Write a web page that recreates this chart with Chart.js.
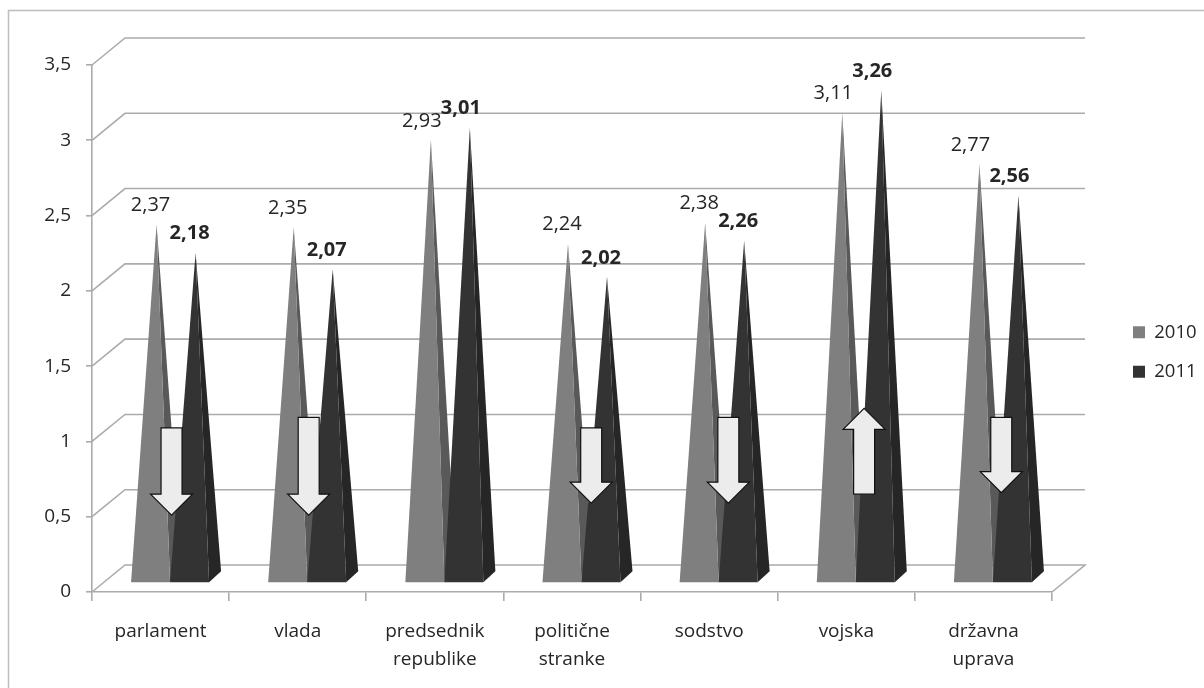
<!DOCTYPE html>
<html lang="sl">
<head>
  <meta charset="UTF-8">
  <title>Zaupanje v institucije</title>
  <style>
    body { margin: 0; background: #fff; }
    /* the reference is a slightly soft, rescaled screenshot */
    canvas { display: block; filter: blur(0.5px); }
  </style>
</head>
<body>
  <canvas id="chart" width="1204" height="688"></canvas>

  <script src="https://cdn.jsdelivr.net/npm/chart.js"></script>
  <script>
    const categories = ['parlament', 'vlada', ['predsednik', 'republike'], ['politične', 'stranke'], 'sodstvo', 'vojska', ['državna', 'uprava']];
    const seriesNames = ['2010', '2011'];
    const values2010 = [2.37, 2.35, 2.93, 2.24, 2.38, 3.11, 2.77];
    const values2011 = [2.18, 2.07, 3.01, 2.02, 2.26, 3.26, 2.56];
    const valueLabels2010 = ['2,37', '2,35', '2,93', '2,24', '2,38', '3,11', '2,77'];
    const valueLabels2011 = ['2,18', '2,07', '3,01', '2,02', '2,26', '3,26', '2,56'];

    // change arrows, in axis units (null = no arrow)
    const arrowCategory = [0.08, 1.08, null, 3.14, 4.14, 5.13, 6.13];
    const arrowFrom = [1.09, 1.16, null, 1.09, 1.16, 0.65, 1.16];
    const arrowTo = [0.51, 0.51, null, 0.59, 0.59, 1.22, 0.66];

    const FONT = '"Open Sans", sans-serif';
    const TEXT = '#262626';
    const GRID = '#ababab';
    const FRONT = ['#7f7f7f', '#333333'];
    const SIDE = ['#595959', '#262626'];

    // 3D look: wall depth and pyramid depth
    const WALL_DX = 33, WALL_DY = 27;
    const BAR_SHIFT_X = 9.5, BAR_SHIFT_Y = 9;
    const PYR_DX = 12, PYR_DY = 11;

    function drawWalls(chart) {
      const { ctx, chartArea, scales } = chart;
      ctx.save();
      ctx.strokeStyle = GRID;
      ctx.lineWidth = 1.6;
      scales.y.ticks.forEach(tick => {
        const y = scales.y.getPixelForValue(tick.value);
        ctx.beginPath();
        ctx.moveTo(chartArea.left, y);
        ctx.lineTo(chartArea.left + WALL_DX, y - WALL_DY);
        ctx.lineTo(chartArea.right + WALL_DX, y - WALL_DY);
        if (tick.value === 0) ctx.lineTo(chartArea.right, y);
        ctx.stroke();
      });
      ctx.restore();
    }

    function drawPyramids(chart) {
      const { ctx } = chart;
      const labels = [valueLabels2010, valueLabels2011];
      categories.forEach((_, i) => {
        [0, 1].forEach(d => {
          const bar = chart.getDatasetMeta(d).data[i];
          const left = bar.x - bar.width / 2 + BAR_SHIFT_X;
          const right = bar.x + bar.width / 2 + BAR_SHIFT_X;
          const base = bar.base - BAR_SHIFT_Y;
          const apexX = bar.x + BAR_SHIFT_X + PYR_DX / 2;
          const apexY = bar.y - 11;

          ctx.fillStyle = SIDE[d];
          ctx.beginPath();
          ctx.moveTo(right, base);
          ctx.lineTo(right + PYR_DX, base - PYR_DY);
          ctx.lineTo(apexX, apexY);
          ctx.closePath();
          ctx.fill();

          ctx.fillStyle = FRONT[d];
          ctx.beginPath();
          ctx.moveTo(left, base);
          ctx.lineTo(right, base);
          ctx.lineTo(apexX, apexY);
          ctx.closePath();
          ctx.fill();
        });
      });

      // value labels go on top of all the pyramids
      ctx.save();
      ctx.fillStyle = TEXT;
      ctx.textAlign = 'center';
      ctx.textBaseline = 'middle';
      categories.forEach((_, i) => {
        [0, 1].forEach(d => {
          const bar = chart.getDatasetMeta(d).data[i];
          const val = d === 0 ? values2010[i] : values2011[i];
          const shift = val > 2.5 ? 9 : 6;
          ctx.font = (d === 1 ? 'bold ' : '') + '20px ' + FONT;
          ctx.fillText(labels[d][i], bar.x + BAR_SHIFT_X + PYR_DX / 2 - shift, bar.y - 11 - 19);
        });
      });
      ctx.restore();
    }

    function drawArrows(chart) {
      const { ctx, scales } = chart;
      ctx.save();
      ctx.fillStyle = '#ececec';
      ctx.strokeStyle = '#111111';
      ctx.lineWidth = 1.2;
      ctx.lineJoin = 'miter';
      arrowCategory.forEach((pos, i) => {
        if (pos === null) return;
        const cat = Math.floor(pos);
        const x = scales.x.getPixelForValue(cat) + (pos - cat) * (scales.x.getPixelForValue(1) - scales.x.getPixelForValue(0));
        const y0 = scales.y.getPixelForValue(arrowFrom[i]);
        const y1 = scales.y.getPixelForValue(arrowTo[i]);
        const dir = y1 > y0 ? 1 : -1;
        const neck = y1 - dir * 21;
        ctx.beginPath();
        ctx.moveTo(x - 10.5, y0);
        ctx.lineTo(x + 10.5, y0);
        ctx.lineTo(x + 10.5, neck);
        ctx.lineTo(x + 21, neck);
        ctx.lineTo(x, y1);
        ctx.lineTo(x - 21, neck);
        ctx.lineTo(x - 10.5, neck);
        ctx.closePath();
        ctx.fill();
        ctx.stroke();
      });
      ctx.restore();
    }

    const pyramidPlugin = {
      id: 'pyramids',
      beforeDraw(chart) {
        // the frame only shows on the top and left, the screenshot cuts off the rest
        const { ctx, width, height } = chart;
        ctx.save();
        ctx.strokeStyle = '#bdbdbd';
        ctx.lineWidth = 1.5;
        ctx.beginPath();
        ctx.moveTo(8.5, height);
        ctx.lineTo(8.5, 10.5);
        ctx.lineTo(width, 10.5);
        ctx.stroke();
        ctx.restore();
      },
      afterLayout(chart) {
        // the legend sits further right and lower than Chart.js would place it
        const legend = chart.legend;
        const shiftY = 352 - (legend.top + legend.bottom) / 2;
        legend.left = 1133 - chart.options.plugins.legend.labels.padding;
        legend.right = chart.width;
        legend.top += shiftY;
        legend.bottom += shiftY;
      },
      beforeDatasetsDraw(chart) {
        drawWalls(chart);
        drawPyramids(chart);
        drawArrows(chart);
      },
      beforeDatasetDraw() {
        return false; // the flat bars are replaced by the pyramids
      }
    };

    const chart = new Chart(document.getElementById('chart'), {
      type: 'bar',
      data: {
        labels: categories,
        datasets: [
          { label: seriesNames[0], data: values2010, backgroundColor: FRONT[0], categoryPercentage: 0.569, barPercentage: 1 },
          { label: seriesNames[1], data: values2011, backgroundColor: FRONT[1], categoryPercentage: 0.569, barPercentage: 1 }
        ]
      },
      options: {
        responsive: false,
        animation: false,
        layout: { padding: { top: 65, right: 60 } },
        plugins: {
          tooltip: { enabled: false },
          legend: {
            position: 'right',
            labels: {
              boxWidth: 12, boxHeight: 12, padding: 21, color: TEXT,
              font: { family: FONT, size: 18.5 }
            }
          }
        },
        scales: {
          x: {
            grid: { drawOnChartArea: false, color: GRID, lineWidth: 1.6, tickLength: 9 },
            border: { color: GRID, width: 1.6 },
            ticks: {
              color: TEXT, maxRotation: 0, autoSkip: false, padding: 17,
              font: { family: FONT, size: 19, lineHeight: 1.47 }
            },
            afterFit(scale) { scale.height = 96; }
          },
          y: {
            min: 0, max: 3.5,
            grid: { drawOnChartArea: false, color: GRID, lineWidth: 1.6, tickLength: 6 },
            border: { color: GRID, width: 1.6 },
            ticks: {
              stepSize: 0.5, color: TEXT, padding: 15,
              font: { family: FONT, size: 19 },
              callback: v => String(v).replace('.', ',')
            },
            afterFit(scale) { scale.width = 92; }
          }
        }
      },
      plugins: [pyramidPlugin]
    });

    // keep the plot's right edge fixed whatever width the legend measures
    chart.options.layout.padding.right = 152 - chart.legend.width;
    chart.update();
  </script>
</body>
</html>
